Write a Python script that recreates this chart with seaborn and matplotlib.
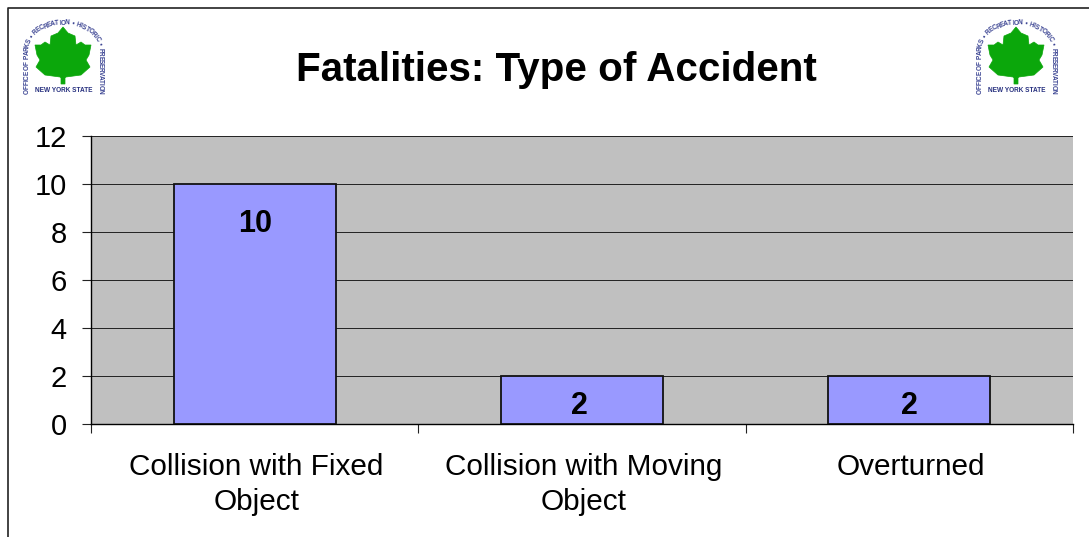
import numpy as np
import pandas as pd
import matplotlib
matplotlib.use("Agg")
import matplotlib.pyplot as plt
from matplotlib.patches import Polygon
from matplotlib.transforms import ScaledTranslation
import seaborn as sns

categories = ["Collision with Fixed\nObject", "Collision with Moving\nObject", "Overturned"]
fatalities = [10, 2, 2]
y_ticks = [0, 2, 4, 6, 8, 10, 12]
title = "Fatalities: Type of Accident"

sns.set_theme(style="white")
plt.rcParams["font.family"] = ["Liberation Sans", "DejaVu Sans"]

W, H = 1089, 537
fig = plt.figure(figsize=(W / 100, H / 100), dpi=100, facecolor="white")

# plot area, in pixels from the picture
left, right, top, bottom = 91, 1073, 136, 424
ax = fig.add_axes([left / W, 1 - bottom / H, (right - left) / W, (bottom - top) / H])
ax.set_facecolor("#c0c0c0")

df = pd.DataFrame({"type": categories, "fatalities": fatalities})
sns.barplot(data=df, x="type", y="fatalities", color="#9999ff", saturation=1,
            width=0.495, edgecolor="#111111", linewidth=1.3, zorder=3, ax=ax)

ax.set_xlim(-0.5, 2.5)
ax.set_ylim(0, 12)
ax.set_xlabel("")
ax.set_ylabel("")
ax.set_yticks(y_ticks)
ax.grid(axis="y", color="#222222", linewidth=0.7, zorder=1)
ax.set_axisbelow(True)

# ticks sit between the categories, labels stay centred
ax.set_xticks([-0.5, 0.5, 1.5, 2.5])
ax.set_xticklabels([])
ax.set_xticks([0, 1, 2], minor=True)
ax.set_xticklabels(categories, minor=True, fontsize=21.4, color="black", linespacing=1.32)
ax.tick_params(axis="x", which="major", bottom=True, length=6.5, width=0.8, color="#222222")
ax.tick_params(axis="x", which="minor", bottom=False, pad=17)
ax.tick_params(axis="y", left=True, length=6.5, width=0.8, color="#222222", labelsize=21,
               labelcolor="black", pad=11)

nudge = ScaledTranslation(2 / 100, 0, fig.dpi_scale_trans)
for lab in ax.get_xticklabels(minor=True):
    lab.set_transform(lab.get_transform() + nudge)

for side in ["top", "right"]:
    ax.spines[side].set_visible(False)
for side in ["left", "bottom"]:
    ax.spines[side].set_color("black")
    ax.spines[side].set_linewidth(1.0)

offsets = [(0, -40), (-3, -30), (0, -30)]
for i, v in enumerate(fatalities):
    dx, dy = offsets[i]
    ax.annotate(str(v), (i, v), xytext=(dx * 0.72, dy * 0.72), textcoords="offset points",
                ha="center", va="center", fontsize=22, fontweight="bold", color="black", zorder=5)

# overlay in pixel coordinates for the frame, title and logos
over = fig.add_axes([0, 0, 1, 1], facecolor="none")
over.set_xlim(0, W)
over.set_ylim(H, 0)
over.axis("off")
over.plot([7.5, 7.5, W], [H, 7.5, 7.5], color="#222222", linewidth=1.2)
over.text(556.5, 70, title, ha="center", va="center", fontsize=29.1, fontweight="bold", color="black")

leaf = [(0, -29), (5, -23), (12, -20), (13, -11), (18, -14), (22, -11), (28, -11), (26, -1),
        (23, 4), (27, 11), (18, 19), (3, 21), (2, 22), (2, 28), (-2, 28), (-2, 22), (-3, 21),
        (-18, 19), (-27, 11), (-23, 4), (-26, -1), (-28, -11), (-22, -11), (-18, -14), (-13, -11),
        (-12, -20), (-5, -23)]
arc_text = "OFFICE OF PARKS \u2022 RECREATION \u2022 HISTORIC \u2022 PRESERVATION"
narrow = {"I": 0.5, " ": 0.6, "\u2022": 0.7}


def draw_logo(cx, cy=56):
    over.add_patch(Polygon([(cx + x, cy + y) for x, y in leaf], closed=True, facecolor="#0ba70b",
                           edgecolor="#0ba70b", linewidth=0.5))
    over.text(cx + 1, 91, "NEW YORK STATE", ha="center", va="center", fontsize=4.7,
              fontweight="bold", color="#27307f")
    # arch: straight sides, elliptical top
    t = np.linspace(0, np.pi, 200)
    px = np.r_[np.full(30, -36.5), -36.5 * np.cos(t), np.full(30, 36.5)] + cx + 0.5
    py = np.r_[np.linspace(93, 50, 30), 50 - 27 * np.sin(t), np.linspace(50, 93, 30)]
    s = np.r_[0, np.cumsum(np.hypot(np.diff(px), np.diff(py)))]
    weights = np.array([narrow.get(ch, 1.0) for ch in arc_text])
    pos = (np.cumsum(weights) - weights / 2) / weights.sum() * s[-1]
    for k, ch in enumerate(arc_text):
        x = np.interp(pos[k], s, px)
        y = np.interp(pos[k], s, py)
        x2 = np.interp(pos[k] + 0.5, s, px)
        y2 = np.interp(pos[k] + 0.5, s, py)
        rot = np.degrees(np.arctan2(y - y2, x2 - x))
        over.text(x, y, ch, ha="center", va="center", rotation=rot, rotation_mode="anchor",
                  fontsize=4.7, fontweight="bold", color="#3a4392")


draw_logo(63)
draw_logo(1016)

fig.savefig("out.png", dpi=100)
